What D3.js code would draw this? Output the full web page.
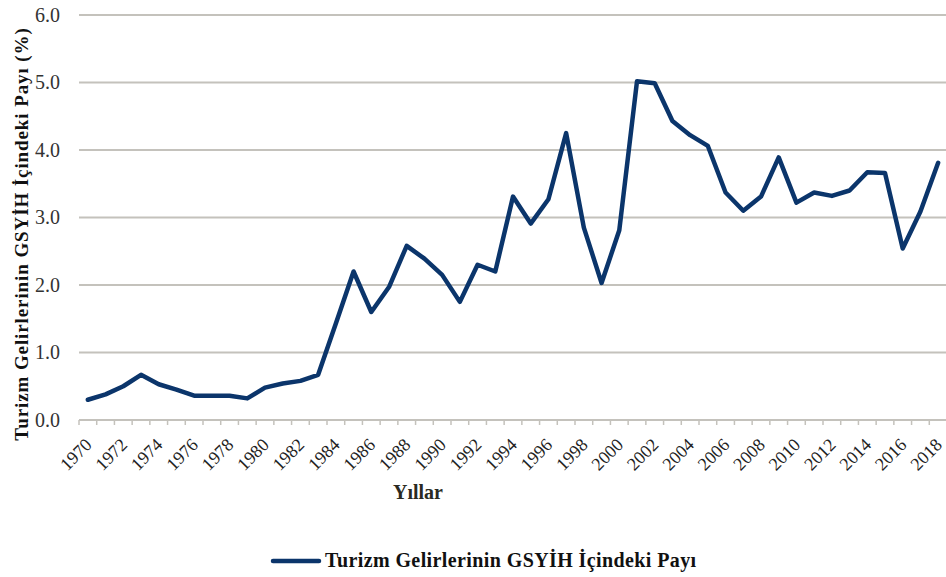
<!DOCTYPE html>
<html>
<head>
<meta charset="utf-8">
<script src="https://cdn.jsdelivr.net/npm/d3@7"></script>
<style>
  body { margin: 0; background: #fff; }
</style>
</head>
<body>
<svg id="chart" width="946" height="577"></svg>
<script>
// years 1970..2018
const years = d3.range(1970, 2019);
// share of tourism revenue in GDP (%)
const share = [
  0.30, 0.38, 0.50, 0.67, 0.53, 0.45, 0.36, 0.36, 0.36, 0.32,
  0.48, 0.54, 0.58, 0.67, 1.43, 2.20, 1.60, 1.97, 2.58, 2.39,
  2.15, 1.75, 2.30, 2.20, 3.31, 2.91, 3.27, 4.25, 2.85, 2.03,
  2.81, 5.02, 4.99, 4.43, 4.22, 4.06, 3.37, 3.10, 3.31, 3.89,
  3.22, 3.37, 3.32, 3.40, 3.67, 3.66, 2.54, 3.09, 3.81
];
const yTicks = [0, 1, 2, 3, 4, 5, 6];
const seriesName = "Turizm Gelirlerinin GSYİH İçindeki Payı";
const yTitle = "Turizm Gelirlerinin GSYİH İçindeki Payı (%)";
const xTitle = "Yıllar";

const FONT = '"Liberation Serif"';
const svg = d3.select("#chart");
const W = 946, H = 577;
const m = { left: 79, right: -1, top: 15, bottom: 157 };

const x = d3.scaleBand().domain(years).range([m.left, W - m.right]);
const y = d3.scaleLinear().domain([0, 6]).range([H - m.bottom, m.top]);

// gridlines
svg.append("g")
  .selectAll("line")
  .data(yTicks)
  .join("line")
  .attr("x1", m.left).attr("x2", W)
  .attr("y1", d => y(d)).attr("y2", d => y(d))
  .attr("stroke", "#c4c2bc")
  .attr("stroke-width", 2);

// y axis labels
svg.append("g")
  .attr("transform", `translate(${m.left - 16},0)`)
  .call(d3.axisLeft(y).tickValues(yTicks).tickFormat(d3.format(".1f")).tickSize(0))
  .call(g => g.select(".domain").remove())
  .selectAll("text")
  .style("font-family", FONT)
  .attr("font-size", 20)
  .attr("dy", "0.3em")
  .attr("fill", "#333");

// x axis: ticks at category boundaries
const xAxis = svg.append("g").attr("transform", `translate(0,${y(0)})`);
xAxis.selectAll("line.tk")
  .data(years)
  .join("line")
  .attr("class", "tk")
  .attr("x1", d => x(d)).attr("x2", d => x(d))
  .attr("y1", 0).attr("y2", 5)
  .attr("stroke", "#c4c2bc").attr("stroke-width", 1.5);

xAxis.selectAll("text")
  .data(years.filter(d => d % 2 === 0))
  .join("text")
  .attr("transform", d => `translate(${x(d) + x.bandwidth() / 2 + 5},${26}) rotate(-45)`)
  .attr("text-anchor", "end")
  .style("font-family", FONT)
  .attr("font-size", 18)
  .attr("fill", "#222")
  .text(d => d);

// line
const line = d3.line()
  .x((d, i) => x(years[i]) + x.bandwidth() / 2)
  .y(d => y(d));

svg.append("path")
  .datum(share)
  .attr("d", line)
  .attr("fill", "none")
  .attr("stroke", "#0b356b")
  .attr("stroke-width", 4.5)
  .attr("stroke-linejoin", "round")
  .attr("stroke-linecap", "round");

// axis titles
svg.append("text")
  .attr("transform", "translate(28,234) rotate(-90)")
  .attr("text-anchor", "middle")
  .style("font-family", FONT)
  .style("letter-spacing", "0.9px")
  .attr("font-size", 19)
  .attr("font-weight", "bold")
  .attr("fill", "#111")
  .text(yTitle);

svg.append("text")
  .attr("x", 418).attr("y", 499)
  .attr("text-anchor", "middle")
  .style("font-family", FONT)
  .attr("font-size", 20)
  .attr("font-weight", "bold")
  .attr("fill", "#2a2a22")
  .text(xTitle);

// legend
const lg = svg.append("g").attr("transform", "translate(273,561)");
lg.append("line")
  .attr("x1", 0).attr("x2", 46)
  .attr("stroke", "#0b356b").attr("stroke-width", 4.5)
  .attr("stroke-linecap", "round");
lg.append("text")
  .attr("x", 52).attr("y", 6)
  .style("font-family", FONT)
  .style("letter-spacing", "0.4px")
  .attr("font-size", 20)
  .attr("font-weight", "bold")
  .attr("fill", "#111")
  .text(seriesName);
</script>
</body>
</html>
